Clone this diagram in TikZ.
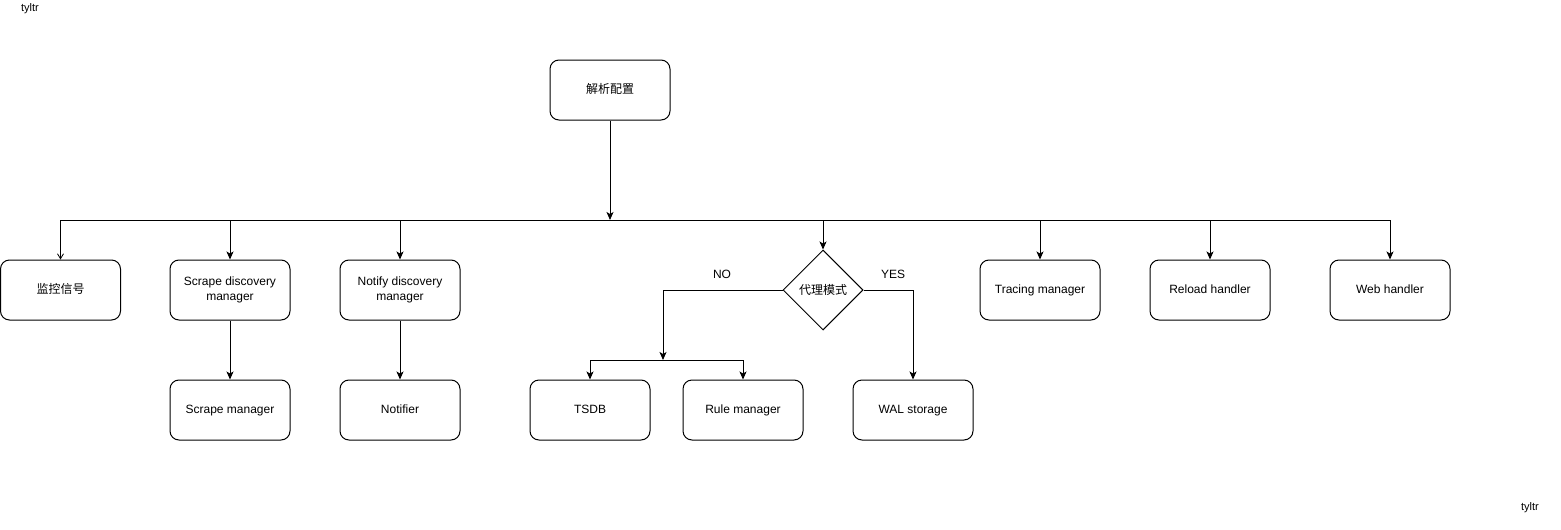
\documentclass[tikz,border=0pt]{standalone}
\usepackage{fontspec}
\setmainfont{Liberation Sans}
\newfontfamily\cjk{Noto Sans CJK SC}
\usetikzlibrary{arrows.meta,shapes.geometric}

\begin{document}
\begin{tikzpicture}[x=1pt, y=-1pt, line width=1pt, font=\fontsize{12}{15}\selectfont,
	box/.style={draw, rounded corners=9pt, minimum width=120pt, minimum height=60pt, align=center, inner sep=2pt},
	oneline/.style={box, text height=9pt, text depth=3pt},
	choice/.style={draw, diamond, minimum width=80pt, minimum height=80pt, inner sep=0pt},
	arr/.style={-{Stealth[length=8pt,width=7pt,inset=2pt]}},
	thinarr/.style={-{Straight Barb[length=5pt,width=6pt]}, line width=0.8pt}]

	\useasboundingbox (0,0) rectangle (1561,530);

	% watermark
	\node[font=\fontsize{11}{13}\selectfont] (mark1) at (30,9) {tyltr};
	\node[font=\fontsize{11}{13}\selectfont] (mark2) at (1530,508) {tyltr};

	% top
	\node[oneline] (parse) at (610,90) {\cjk 解析配置};

	% row one
	\node[oneline] (signal) at (60.5,290) {\cjk 监控信号};
	\node[box] (scrapedisc) at (230,290) {Scrape discovery\\manager};
	\node[box] (notifydisc) at (400,290) {Notify discovery\\manager};
	\node[choice] (agent) at (823,290) {\cjk 代理模式};
	\node[oneline] (tracing) at (1040,290) {Tracing manager};
	\node[oneline] (reload) at (1210,290) {Reload handler};
	\node[oneline] (web) at (1390,290) {Web handler};

	% row two
	\node[oneline] (scrape) at (230,410) {Scrape manager};
	\node[oneline] (notifier) at (400,410) {Notifier};
	\node[oneline] (tsdb) at (590,410) {TSDB};
	\node[oneline] (rules) at (743,410) {Rule manager};
	\node[oneline] (wal) at (913,410) {WAL storage};

	% bus
	\coordinate (busL) at (60.5,220);
	\coordinate (busR) at (1390,220);
	\coordinate (bus) at (610,220);
	\draw (busL) -- (busR);
	\draw[arr] (parse) -- (bus);

	\draw[thinarr] (busL) -- (signal);
	\draw[arr] (scrapedisc.north |- bus) -- (scrapedisc);
	\draw[arr] (notifydisc.north |- bus) -- (notifydisc);
	\draw[arr] (agent.north |- bus) -- (agent);
	\draw[arr] (tracing.north |- bus) -- (tracing);
	\draw[arr] (reload.north |- bus) -- (reload);
	\draw[arr] (busR) -- (web);

	\draw[arr] (scrapedisc) -- (scrape);
	\draw[arr] (notifydisc) -- (notifier);

	% NO branch
	\coordinate (split) at (663,360);
	\draw[arr] (agent.west) -| (split);
	\draw[arr] (split) -| (tsdb.north);
	\draw[arr] (split) -| (rules.north);
	\node (no) at (722,274) {NO};

	% YES branch
	\draw[arr] (agent.east) -| (wal.north);
	\node (yes) at (893,274) {YES};

\end{tikzpicture}
\end{document}
